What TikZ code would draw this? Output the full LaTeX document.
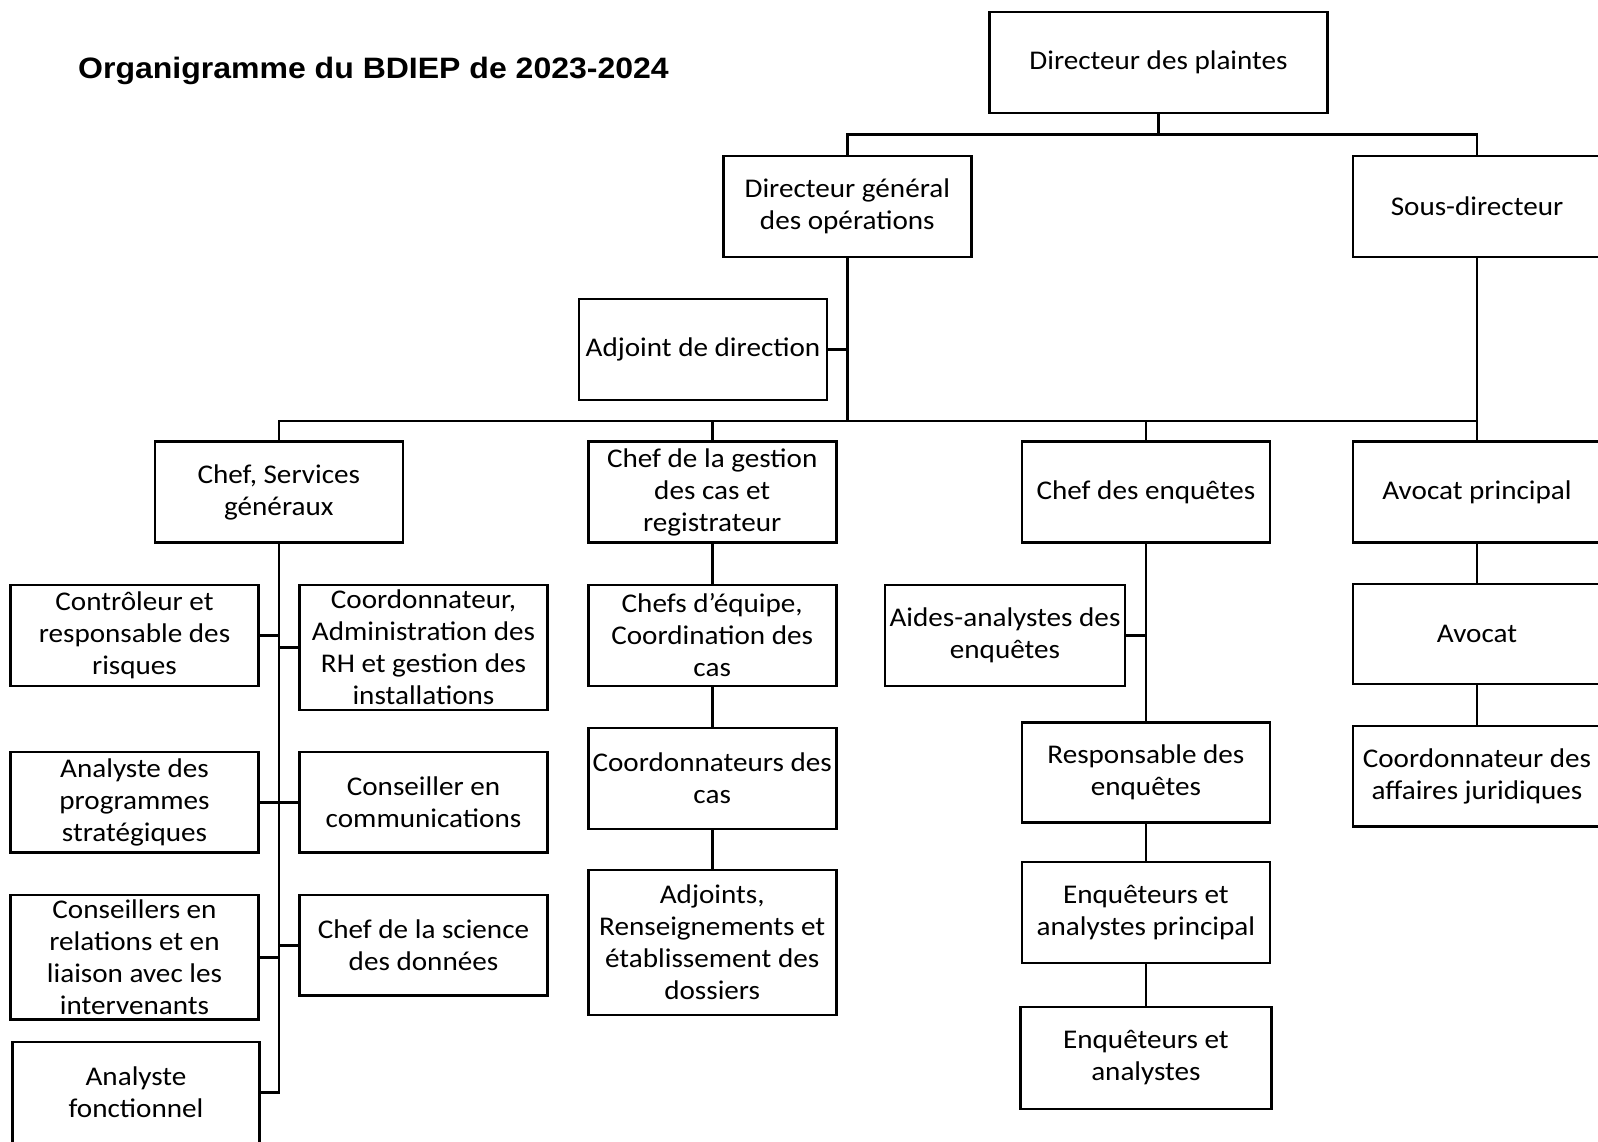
\documentclass[tikz,border=0pt]{standalone}
\usepackage{fontspec}
\setmainfont{Carlito}[FakeStretch=1.08]
\newfontfamily\titlefont{Liberation Sans}[FakeStretch=1.085]
\begin{document}
\begin{tikzpicture}[x=1pt,y=1pt,
  box/.style={draw=black, line width=2.6pt, fill=white, inner sep=0pt, align=center,
     minimum width=248pt, minimum height=101pt,
     font=\fontsize{27}{32}\selectfont},
  conn/.style={line width=2.6pt, line cap=rect}]
\clip (0,0) rectangle (1598,-1141);
\fill[white] (0,0) rectangle (1598,-1141);

\node[anchor=base west, inner sep=0pt, font=\titlefont\bfseries\fontsize{29.5}{34}\selectfont] (title) at (78,-78) {Organigramme du BDIEP de 2023-2024};

\coordinate (b1) at (0,-134.5);
\coordinate (b2) at (0,-421);

% top
\node[box, minimum width=337.5pt] (dp) at (1158.5,-62.5) {Directeur des plaintes};
\node[box] (dgo) at (847.3,-206.5) {Directeur général\\des opérations};
\node[box] (sd) at (1477,-206.5) {Sous-directeur};
\node[box] (adj) at (703,-349.5) {Adjoint de direction};

% second level
\node[box, minimum height=100.5pt] (csg) at (278.8,-492) {Chef, Services\\généraux};
\node[box, minimum height=100.5pt] (cgc) at (712.2,-492) {Chef de la gestion\\des cas et\\registrateur};
\node[box, minimum height=100.5pt] (ce) at (1145.9,-492) {Chef des enquêtes};
\node[box, minimum height=100.5pt] (ap) at (1477,-492) {Avocat principal};

% services generaux column
\node[box] (ctrl) at (134.5,-635.5) {Contrôleur et\\responsable des\\risques};
\node[box, minimum height=125pt] (coord) at (423.5,-647.5) {Coordonnateur,\\Administration des\\RH et gestion des\\installations};
\node[box, minimum height=100.7pt] (aps) at (134.5,-802.3) {Analyste des\\programmes\\stratégiques};
\node[box, minimum height=100.7pt] (cc) at (423.5,-802.3) {Conseiller en\\communications};
\node[box, minimum height=124.6pt] (crl) at (134.5,-957.3) {Conseillers en\\relations et en\\liaison avec les\\intervenants};
\node[box, minimum height=100.5pt] (csd) at (423.5,-945.2) {Chef de la science\\des données};
\node[box, minimum width=247pt] (af) at (136,-1092.5) {Analyste\\fonctionnel};

% gestion des cas column
\node[box] (ceq) at (712.2,-635.5) {Chefs d’équipe,\\Coordination des\\cas};
\node[box] (cdc) at (712.2,-778.5) {Coordonnateurs des\\cas};
\node[box, minimum height=145pt] (adr) at (712.2,-942.5) {Adjoints,\\Renseignements et\\établissement des\\dossiers};

% enquetes column
\node[box, minimum width=240pt] (aae) at (1005,-635.5) {Aides-analystes des\\enquêtes};
\node[box, minimum height=100.2pt] (re) at (1145.9,-772.6) {Responsable des\\enquêtes};
\node[box] (eap) at (1145.9,-912.5) {Enquêteurs et\\analystes principal};
\node[box, minimum width=251pt, minimum height=102pt] (ea) at (1145.9,-1058) {Enquêteurs et\\analystes};

% avocat column
\node[box, minimum height=100pt] (av) at (1477,-634) {Avocat};
\node[box, minimum height=100.7pt] (caj) at (1477,-776.4) {Coordonnateur des\\affaires juridiques};

% connectors
\draw[conn] (dp.south) -- (dp.south |- b1);
\draw[conn] (dgo.north) |- (b1 -| sd.north) -- (sd.north);
\draw[conn] (dgo.south) -- (dgo.south |- b2);
\draw[conn] (adj.east) -- (adj.east -| dgo.south);
\draw[conn] (csg.north) |- (b2 -| ap.north);
\draw[conn] (sd.south) -- (ap.north);
\draw[conn] (cgc.north) -- (cgc.north |- b2);
\draw[conn] (ce.north) -- (ce.north |- b2);

\draw[conn] (csg.south) -- (csg.south |- af.east);
\draw[conn] (ctrl.east) -- (ctrl.east -| csg.south);
\draw[conn] (coord.west) -- (coord.west -| csg.south);
\draw[conn] (aps.east) -- (cc.west);
\draw[conn] (crl.east) -- (crl.east -| csg.south);
\draw[conn] (csd.west) -- (csd.west -| csg.south);
\draw[conn] (af.east) -- (af.east -| csg.south);

\draw[conn] (cgc.south) -- (ceq.north);
\draw[conn] (ceq.south) -- (cdc.north);
\draw[conn] (cdc.south) -- (adr.north);

\draw[conn] (ce.south) -- (re.north);
\draw[conn] (aae.east) -- (aae.east -| ce.south);
\draw[conn] (re.south) -- (eap.north);
\draw[conn] (eap.south) -- (ea.north);

\draw[conn] (ap.south) -- (av.north);
\draw[conn] (av.south) -- (caj.north);
\end{tikzpicture}
\end{document}
